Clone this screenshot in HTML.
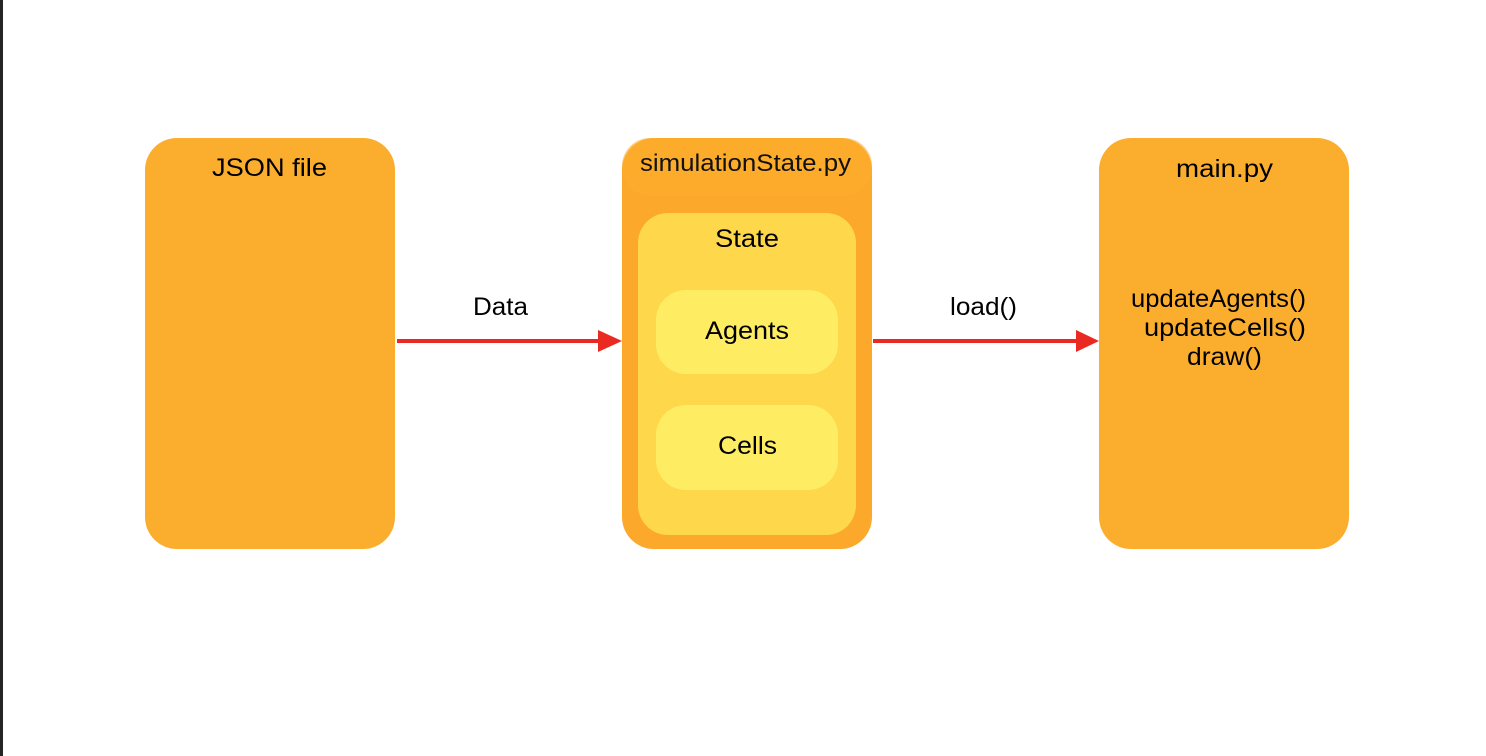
<!DOCTYPE html>
<html><head><style>
html,body{margin:0;padding:0;background:#fff;}
body{width:1486px;height:756px;position:relative;overflow:hidden;font-family:"Liberation Sans",Helvetica,Arial,sans-serif;}
</style></head><body>
<svg width="1486" height="756" xmlns="http://www.w3.org/2000/svg" style="position:absolute;left:0;top:0" font-family="Liberation Sans, Helvetica, Arial, sans-serif">
<rect x="0" y="0" width="3" height="756" fill="#252525"/>
<rect x="145" y="138" width="250" height="411" rx="32" fill="#fbae2d"/>
<text x="212" y="176" font-size="25" textLength="115" lengthAdjust="spacingAndGlyphs" fill="#000">JSON file</text>
<rect x="622" y="138" width="250" height="411" rx="32" fill="#fca82a"/>
<rect x="622" y="138" width="250" height="58" rx="28" fill="#fbae2d" opacity="0.6"/>
<text x="640" y="171" font-size="24" textLength="211" lengthAdjust="spacingAndGlyphs" fill="#111">simulationState.py</text>
<rect x="638" y="213" width="218" height="322" rx="30" fill="#fed74a"/>
<text x="715" y="247" font-size="25" textLength="64" lengthAdjust="spacingAndGlyphs" fill="#000">State</text>
<rect x="656" y="290" width="182" height="84" rx="30" fill="#feed62"/>
<text x="705" y="339" font-size="25" textLength="84" lengthAdjust="spacingAndGlyphs" fill="#000">Agents</text>
<rect x="656" y="405" width="182" height="85" rx="30" fill="#feed62"/>
<text x="718" y="454" font-size="25" textLength="59" lengthAdjust="spacingAndGlyphs" fill="#000">Cells</text>
<rect x="1099" y="138" width="250" height="411" rx="32" fill="#fbae2d"/>
<text x="1176" y="177" font-size="25" textLength="97" lengthAdjust="spacingAndGlyphs" fill="#000">main.py</text>
<text x="1131" y="307" font-size="25" textLength="175" lengthAdjust="spacingAndGlyphs" fill="#000">updateAgents()</text>
<text x="1144" y="336" font-size="25" textLength="162" lengthAdjust="spacingAndGlyphs" fill="#000">updateCells()</text>
<text x="1187" y="365" font-size="25" textLength="75" lengthAdjust="spacingAndGlyphs" fill="#000">draw()</text>
<line x1="397" y1="341" x2="600" y2="341" stroke="#ea2a22" stroke-width="4"/>
<polygon points="598,330 622,341 598,352" fill="#ea2a22"/>
<text x="473" y="315" font-size="25" textLength="55" lengthAdjust="spacingAndGlyphs" fill="#000">Data</text>
<line x1="873" y1="341" x2="1078" y2="341" stroke="#ea2a22" stroke-width="4"/>
<polygon points="1076,330 1099,341 1076,352" fill="#ea2a22"/>
<text x="950" y="315" font-size="25" textLength="67" lengthAdjust="spacingAndGlyphs" fill="#000">load()</text>
</svg>
</body></html>
